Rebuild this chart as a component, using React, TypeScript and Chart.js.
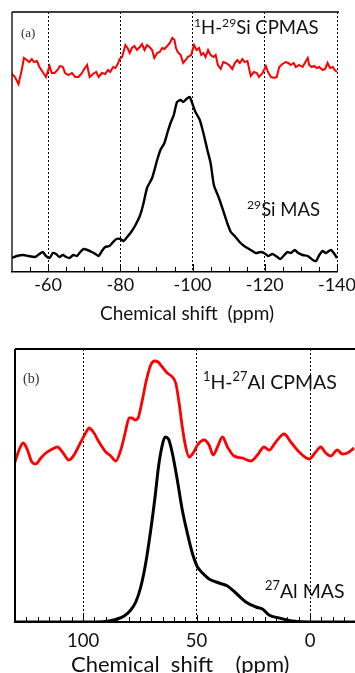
import React, { useEffect, useRef } from "react";
import { Chart, registerables } from "chart.js";

Chart.register(...registerables);

// ---------- Panel (a): 29Si ----------
const siCpShift = [
  -50.0, -50.8, -51.8, -52.7, -53.3, -54.1, -54.8, -55.5, -56.1, -56.9,
  -57.6, -58.5, -59.4, -60.4, -61.0, -61.8, -62.6, -63.3, -64.1, -64.7,
  -65.6, -66.6, -67.5, -68.4, -69.4, -70.0, -70.8, -71.5, -72.4, -73.3,
  -74.0, -74.9, -75.8, -76.6, -77.2, -78.0, -78.6, -79.3, -79.8, -80.5,
  -81.4, -82.0, -82.6, -83.2, -83.9, -84.6, -85.4, -86.0, -86.7, -87.4,
  -88.1, -88.8, -89.4, -90.2, -90.9, -91.6, -92.2, -93.0, -93.7, -94.4,
  -95.0, -95.4, -95.9, -96.7, -97.4, -98.1, -98.7, -99.6, -100.4, -101.1,
  -101.8, -102.4, -103.0, -103.6, -104.3, -105.0, -105.8, -106.4, -107.0, -107.8,
  -108.5, -109.2, -110.1, -111.0, -111.7, -112.4, -113.1, -113.8, -114.4, -115.2,
  -116.1, -117.0, -117.8, -118.4, -119.4, -120.3, -120.9, -121.7, -122.6, -123.3,
  -124.0, -124.9, -125.8, -126.5, -127.2, -128.0, -128.6, -129.5, -130.5, -131.1,
  -131.9, -132.3, -133.0, -133.7, -134.4, -135.1, -136.0, -136.7, -137.4, -138.1,
  -138.8, -139.4, -140.0,
];
const siCpInt = [
  198, 195, 188, 202, 214, 212, 210, 213, 210, 211,
  205, 200, 195, 206, 199, 199, 202, 206, 205, 199,
  197, 199, 195, 195, 199, 203, 207, 195, 198, 200,
  195, 199, 198, 202, 200, 205, 204, 208, 213, 215,
  227, 224, 219, 224, 226, 222, 225, 228, 222, 227,
  225, 222, 214, 219, 220, 224, 223, 226, 229, 234,
  232, 224, 220, 217, 209, 212, 215, 217, 227, 222,
  224, 217, 219, 215, 222, 217, 215, 217, 207, 203,
  210, 209, 207, 203, 209, 212, 209, 213, 210, 211,
  196, 200, 199, 195, 199, 206, 200, 195, 194, 195,
  205, 208, 210, 209, 207, 209, 205, 207, 205, 209,
  214, 207, 205, 206, 204, 205, 202, 203, 209, 204,
  205, 202, 200,
];
const siMasShift = [
  -50.0, -51.3, -53.1, -54.5, -56.4, -57.6, -58.5, -59.4, -60.4, -61.3,
  -62.2, -63.1, -64.1, -65.0, -65.9, -67.0, -68.0, -68.9, -69.8, -70.9,
  -72.1, -73.1, -74.0, -74.9, -75.8, -77.0, -78.0, -78.9, -80.0, -80.9,
  -81.9, -83.0, -84.2, -85.4, -86.3, -87.4, -88.8, -90.2, -91.1, -92.2,
  -93.1, -93.9, -94.8, -95.7, -96.7, -97.4, -98.3, -99.2, -99.9, -100.8,
  -102.0, -103.0, -104.1, -105.0, -105.9, -107.3, -108.7, -109.6, -110.6, -111.9,
  -113.3, -114.7, -116.1, -117.5, -118.9, -119.8, -120.9, -122.1, -123.1, -124.3,
  -125.4, -126.3, -127.2, -128.3, -129.3, -130.5, -131.9, -133.3, -134.2, -135.1,
  -136.0, -136.9, -138.3, -139.3, -140.0,
];
const siMasInt = [
  14, 16, 17, 16, 15, 18, 20, 16, 14, 19,
  18, 15, 17, 15, 14, 17, 16, 20, 23, 22,
  20, 18, 16, 21, 25, 26, 30, 33, 33, 31,
  35, 40, 47, 56, 67, 84, 94, 112, 122, 129,
  140, 149, 157, 170, 172, 170, 173, 175, 169, 160,
  152, 139, 122, 109, 87, 74, 59, 49, 40, 35,
  29, 25, 22, 19, 20, 19, 16, 18, 16, 13,
  17, 20, 19, 22, 19, 17, 16, 12, 11, 17,
  21, 19, 22, 18, 14,
];
const siTicks = [-60, -80, -100, -120, -140];

// ---------- Panel (b): 27Al ----------
const alCpShift = [
  130.0, 128.2, 126.4, 124.5, 122.6, 120.8, 118.6, 116.4, 113.5, 111.3,
  109.1, 106.2, 104.0, 101.0, 98.1, 97.4, 95.2, 93.0, 90.0, 87.8,
  85.6, 83.4, 81.9, 81.2, 79.7, 78.5, 77.1, 75.6, 73.9, 72.1,
  70.2, 68.4, 67.0, 65.1, 62.9, 60.7, 59.2, 57.7, 56.3, 54.8,
  53.3, 51.5, 49.6, 46.7, 44.5, 42.7, 40.8, 38.6, 36.4, 33.5,
  29.8, 26.1, 23.2, 20.3, 18.1, 15.1, 11.5, 8.5, 4.8, 0.4,
  -2.5, -4.7, -6.9, -9.1, -12.0, -14.2, -16.4, -19.4,
];
const alCpInt = [
  160, 172, 179, 172, 160, 158, 164, 169, 173, 175,
  170, 162, 167, 180, 192, 194, 189, 180, 170, 166,
  161, 172, 185, 192, 204, 204, 202, 205, 222, 242,
  257, 261, 260, 255, 249, 245, 239, 219, 195, 175,
  165, 169, 177, 182, 177, 167, 175, 185, 175, 166,
  164, 161, 167, 175, 172, 180, 188, 180, 170, 163,
  170, 175, 169, 166, 172, 168, 169, 174,
];
const alMasShift = [
  130.0, 117.9, 103.2, 94.4, 88.5, 84.9, 81.9, 79.0, 76.8, 74.6,
  72.4, 70.2, 68.3, 66.8, 65.3, 63.9, 62.4, 60.7, 58.5, 56.3,
  54.1, 51.9, 49.6, 47.4, 44.5, 40.1, 36.4, 32.7, 28.3, 23.9,
  21.0, 18.1, 13.7, 7.8, 0.4, -20.0,
];
const alMasInt = [
  0, 0, 0, 0, 1, 3, 6, 12, 20, 35,
  59, 92, 125, 155, 175, 185, 183, 169, 142, 112,
  89, 69, 55, 49, 43, 39, 36, 29, 20, 15,
  13, 7, 4, 1, 0, 0,
];
const alTicks = [100, 50, 0];

const FONT = "Lato, 'Open Sans', sans-serif";
const SERIF = "'Liberation Serif', 'DejaVu Serif', serif";

type Seg = { t: string; sup?: boolean };
type Label = {
  x: number;
  y: number;
  segs: Seg[];
  size: number;
  family: string;
  color: string;
  baseline?: CanvasTextBaseline;
};

function drawRich(ctx: CanvasRenderingContext2D, l: Label) {
  let cx = l.x;
  ctx.fillStyle = l.color;
  ctx.textBaseline = l.baseline || "alphabetic";
  ctx.textAlign = "left";
  for (const s of l.segs) {
    const fs = s.sup ? l.size * 0.66 : l.size;
    ctx.font = `${fs}px ${l.family}`;
    const dy = s.sup ? -l.size * 0.4 : 0;
    ctx.fillText(s.t, cx, l.y + dy);
    cx += ctx.measureText(s.t).width;
  }
}

const framePlugin = {
  id: "frame",
  afterDraw(chart: any, _args: any, opts: any) {
    const { ctx, chartArea: a, scales } = chart;
    const xs = scales.x;
    ctx.save();
    ctx.setLineDash([]);
    ctx.strokeStyle = "#000";
    ctx.lineWidth = opts.borderWidth;
    ctx.beginPath();
    ctx.moveTo(a.left, a.top);
    ctx.lineTo(a.right + 2, a.top);
    ctx.moveTo(a.left, a.top);
    ctx.lineTo(a.left, a.bottom);
    ctx.stroke();
    // minor / major tick marks pointing inwards
    ctx.lineWidth = 1;
    ctx.beginPath();
    for (let v = opts.minorFrom; v <= opts.minorTo + 1e-9; v += opts.minorStep) {
      const px = Math.round(xs.getPixelForValue(v)) + 0.5;
      const isMajor = opts.majors.includes(v);
      const len = isMajor ? opts.majorLen : opts.minorLen;
      ctx.moveTo(px, a.bottom);
      ctx.lineTo(px, a.bottom - len);
    }
    ctx.stroke();
    for (const l of opts.labels as Label[]) drawRich(ctx, l);
    ctx.restore();
  },
};

function makeConfig(p: any) {
  return {
    type: "line",
    data: {
      datasets: p.series.map((s: any) => ({
        data: s.x.map((x: number, i: number) => ({ x, y: s.y[i] })),
        borderColor: s.color,
        borderWidth: s.width,
        pointRadius: 0,
        tension: s.tension,
        cubicInterpolationMode: s.mode,
        fill: false,
      })),
    },
    options: {
      animation: false,
      responsive: false,
      devicePixelRatio: 1,
      layout: { padding: p.padding },
      plugins: {
        legend: { display: false },
        tooltip: { enabled: false },
        frame: p.frame,
      },
      scales: {
        x: {
          type: "linear",
          min: p.xMin,
          max: p.xMax,
          reverse: true,
          afterBuildTicks: (s: any) => {
            s.ticks = p.ticks.map((v: number) => ({ value: v }));
          },
          afterFit: (s: any) => {
            s.height = p.axisHeight;
            s.paddingLeft = 0;
            s.paddingRight = 0;
          },
          grid: { color: "#000", lineWidth: 1, drawTicks: false },
          border: { display: true, color: "#000", width: p.axisWidth, dash: [2, 2] },
          ticks: {
            autoSkip: false,
            maxRotation: 0,
            padding: p.tickPad,
            color: "#111",
            font: { family: FONT, size: p.tickSize },
          },
          title: { display: false },
        },
        y: { display: false, min: 0, max: p.yMax },
      },
    },
    plugins: [framePlugin],
  };
}

const panelA = {
  series: [
    { x: siCpShift, y: siCpInt, color: "#ff0000", width: 2, tension: 0, mode: "default" },
    { x: siMasShift, y: siMasInt, color: "#000000", width: 2.4, tension: 0.2, mode: "default" },
  ],
  xMin: -140,
  xMax: -50,
  yMax: 260,
  ticks: siTicks,
  padding: { left: 12, right: 18, top: 12, bottom: 0 },
  axisHeight: 58,
  axisWidth: 1.5,
  tickPad: 2,
  tickSize: 18,
  frame: {
    borderWidth: 1.3,
    minorFrom: -140,
    minorTo: -55,
    minorStep: 5,
    majors: siTicks,
    minorLen: 5,
    majorLen: 8,
    labels: [
      { x: 21, y: 37, segs: [{ t: "(a)" }], size: 13, family: SERIF, color: "#333" },
      {
        x: 194, y: 34, size: 18.5, family: FONT, color: "#111",
        segs: [{ t: "1", sup: true }, { t: "H-" }, { t: "29", sup: true }, { t: "Si CPMAS" }],
      },
      {
        x: 247, y: 216, size: 18.5, family: FONT, color: "#111",
        segs: [{ t: "29", sup: true }, { t: "Si MAS" }],
      },
      {
        x: 100, y: 314, size: 19, family: FONT, color: "#111", baseline: "middle",
        segs: [{ t: "Chemical shift  (ppm)" }],
      },
    ],
  },
};

const panelB = {
  series: [
    { x: alCpShift, y: alCpInt, color: "#ff0000", width: 2.8, tension: 0.4, mode: "monotone" },
    { x: alMasShift, y: alMasInt, color: "#000000", width: 3, tension: 0.4, mode: "monotone" },
  ],
  xMin: -20,
  xMax: 130,
  yMax: 273,
  ticks: alTicks,
  padding: { left: 15, right: 4.5, top: 19, bottom: 0 },
  axisHeight: 68,
  axisWidth: 2,
  tickPad: 8,
  tickSize: 18.5,
  frame: {
    borderWidth: 2,
    minorFrom: -20,
    minorTo: 130,
    minorStep: 5,
    majors: alTicks,
    minorLen: 5,
    majorLen: 7,
    labels: [
      { x: 23, y: 53, segs: [{ t: "(b)" }], size: 14, family: SERIF, color: "#333" },
      {
        x: 203, y: 59, size: 19.5, family: FONT, color: "#111",
        segs: [{ t: "1", sup: true }, { t: "H-" }, { t: "27", sup: true }, { t: "Al CPMAS" }],
      },
      {
        x: 265, y: 268, size: 19.5, family: FONT, color: "#111",
        segs: [{ t: "27", sup: true }, { t: "Al MAS" }],
      },
      {
        x: 71, y: 335, size: 22, family: FONT, color: "#111", baseline: "middle",
        segs: [{ t: "Chemical  shift    (ppm)" }],
      },
    ],
  },
};

export default function App() {
  const refA = useRef<HTMLCanvasElement>(null);
  const refB = useRef<HTMLCanvasElement>(null);

  useEffect(() => {
    const a = new Chart(refA.current as any, makeConfig(panelA) as any);
    const b = new Chart(refB.current as any, makeConfig(panelB) as any);
    return () => {
      a.destroy();
      b.destroy();
    };
  }, []);

  return (
    <div
      style={{
        position: "fixed",
        left: 0,
        top: 0,
        width: 355,
        height: 673,
        overflow: "hidden",
        background: "#fff",
      }}
    >
      <canvas
        ref={refA}
        width={355}
        height={330}
        style={{ position: "absolute", left: 0, top: 0, width: 355, height: 330 }}
      />
      <canvas
        ref={refB}
        width={360}
        height={360}
        style={{ position: "absolute", left: 0, top: 330, width: 360, height: 360 }}
      />
    </div>
  );
}
